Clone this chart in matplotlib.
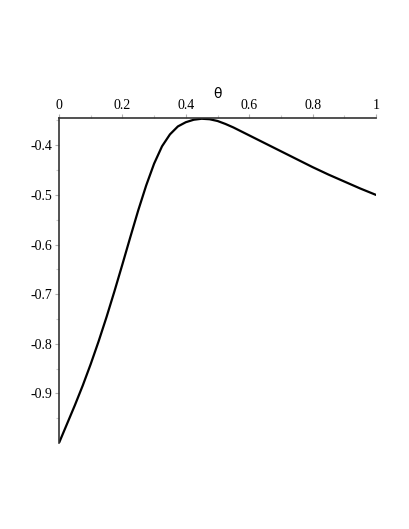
import matplotlib
matplotlib.use("Agg")
import matplotlib.pyplot as plt
from matplotlib.ticker import MultipleLocator, FixedLocator

theta = [0.0, 0.025, 0.05, 0.075, 0.1, 0.125, 0.15, 0.175, 0.2, 0.225,
         0.25, 0.275, 0.3, 0.325, 0.35, 0.375, 0.4, 0.425, 0.45, 0.475,
         0.5, 0.525, 0.55, 0.575, 0.6, 0.625, 0.65, 0.675, 0.7, 0.725,
         0.75, 0.775, 0.8, 0.825, 0.85, 0.875, 0.9, 0.925, 0.95, 0.975, 1.0]
values = [-1.0, -0.962, -0.924, -0.884, -0.841, -0.795, -0.746, -0.694, -0.640, -0.585,
          -0.531, -0.481, -0.437, -0.402, -0.378, -0.362, -0.3535, -0.3485, -0.3465, -0.3475,
          -0.351, -0.357, -0.364, -0.372, -0.380, -0.388, -0.396, -0.404, -0.412, -0.420,
          -0.428, -0.436, -0.444, -0.4515, -0.459, -0.466, -0.473, -0.480, -0.487, -0.4935, -0.500]
xticks = [0, 0.2, 0.4, 0.6, 0.8, 1]
xticklabels = ["0", "0.2", "0.4", "0.6", "0.8", "1"]
yticks = [-0.9, -0.8, -0.7, -0.6, -0.5, -0.4]
yticklabels = ["-0.9", "-0.8", "-0.7", "-0.6", "-0.5", "-0.4"]

plt.rcParams['font.family'] = ['Liberation Serif', 'DejaVu Serif']

fig = plt.figure(figsize=(4.09, 5.29), dpi=100)
ax = fig.add_axes([59/409, 1-443/529, 317/409, (443-118)/529])
ax.plot(theta, values, color='black', lw=1.6, solid_capstyle='round', solid_joinstyle='round')
ax.set_xlim(0, 1)
ax.set_ylim(-1.0, -0.345)

ax.spines['right'].set_visible(False)
ax.spines['bottom'].set_visible(False)
for s in ('top', 'left'):
    ax.spines[s].set_color('#333333')
    ax.spines[s].set_linewidth(1.2)

ax.xaxis.tick_top()
ax.xaxis.set_label_position('top')
ax.set_xticks(xticks)
ax.set_xticklabels(xticklabels)
ax.xaxis.set_minor_locator(MultipleLocator(0.1))
ax.set_yticks(yticks)
ax.set_yticklabels(yticklabels)
ax.yaxis.set_minor_locator(FixedLocator([-0.95, -0.85, -0.75, -0.65, -0.55, -0.45, -0.35]))

ax.tick_params(which='major', direction='out', length=3, width=0.8, color='#b0b0b0',
               labelsize=10)
ax.tick_params(axis='x', which='major', pad=1)
ax.tick_params(axis='y', which='major', pad=2)
ax.tick_params(which='minor', direction='out', length=2, width=0.8, color='#c8c8c8')
ax.set_xlabel('θ', fontsize=10, labelpad=1, family=['DejaVu Sans'])

fig.savefig('out.png', dpi=100)
